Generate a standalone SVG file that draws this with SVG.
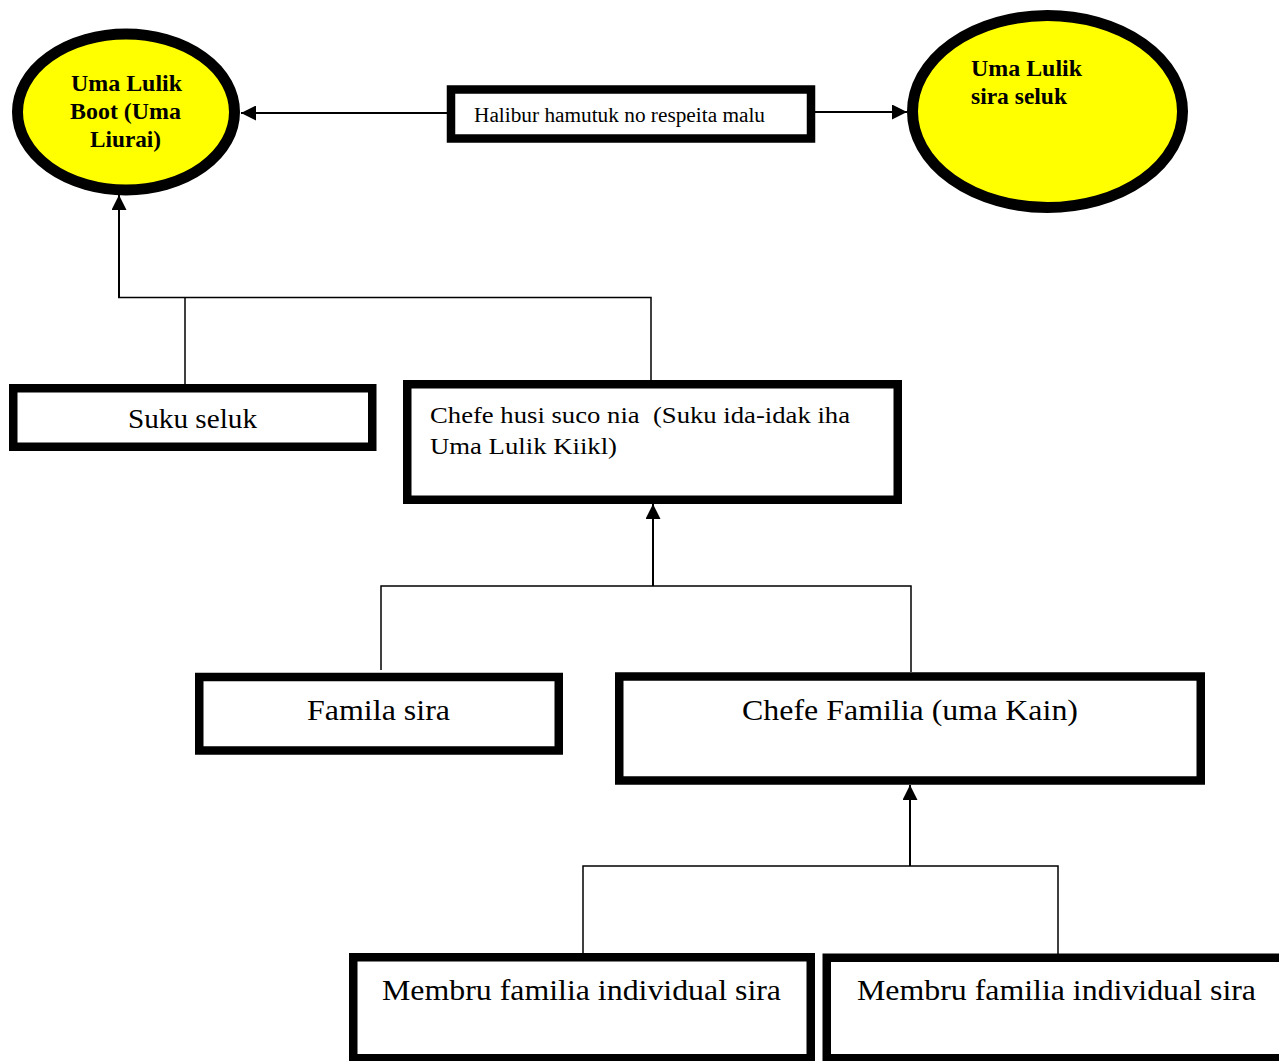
<svg xmlns="http://www.w3.org/2000/svg" width="1279" height="1061" viewBox="0 0 1279 1061">
<style>
.ell{fill:#FFFF00;stroke:#000;stroke-width:11}
.box{fill:#fff;stroke:#000;stroke-width:8.5}
.t{font-family:"Liberation Serif","Times New Roman",serif;fill:#000}
.b{font-weight:bold;font-size:23px}
.arr{fill:none;stroke:#000;stroke-width:2}
.ln{fill:none;stroke:#000;stroke-width:1.5}
</style>
<defs>
<marker id="ah" markerUnits="userSpaceOnUse" viewBox="0 0 15 15" refX="15" refY="7.5" markerWidth="15" markerHeight="15" orient="auto">
<path d="M0,0 L15,7.5 L0,15 z" fill="#000"/>
</marker>
</defs>
<rect width="1279" height="1061" fill="#fff"/>
<g id="connectors">
<line class="arr" x1="447" y1="113" x2="241" y2="113" marker-end="url(#ah)"/>
<line class="arr" x1="815" y1="112" x2="907" y2="112" marker-end="url(#ah)"/>
<line class="arr" x1="119" y1="298" x2="119" y2="195" marker-end="url(#ah)"/>
<polyline class="ln" points="118,297.5 651,297.5 651,381"/>
<line class="ln" x1="185" y1="297.5" x2="185" y2="384"/>
<line class="arr" x1="653" y1="586" x2="653" y2="504" marker-end="url(#ah)"/>
<polyline class="ln" points="381,670 381,586 911,586 911,672"/>
<line class="arr" x1="910" y1="866" x2="910" y2="785" marker-end="url(#ah)"/>
<polyline class="ln" points="583,954 583,866 1058,866 1058,954"/>
</g>
<g id="uma-lulik-boot">
<ellipse class="ell" cx="126" cy="112" rx="108.5" ry="78"/>
<text class="t b" x="71" y="91" textLength="111" lengthAdjust="spacingAndGlyphs">Uma Lulik</text>
<text class="t b" x="70" y="119" textLength="111" lengthAdjust="spacingAndGlyphs">Boot (Uma</text>
<text class="t b" x="90" y="147" textLength="71" lengthAdjust="spacingAndGlyphs">Liurai)</text>
</g>
<g id="halibur">
<rect class="box" x="451" y="89.5" width="360" height="49"/>
<text class="t" x="474" y="122" font-size="20" textLength="291" lengthAdjust="spacingAndGlyphs">Halibur hamutuk no respeita malu</text>
</g>
<g id="uma-lulik-sira-seluk">
<ellipse class="ell" cx="1047.5" cy="111.5" rx="135" ry="96"/>
<text class="t b" x="971" y="76" textLength="111" lengthAdjust="spacingAndGlyphs">Uma Lulik</text>
<text class="t b" x="971" y="104" textLength="96" lengthAdjust="spacingAndGlyphs">sira seluk</text>
</g>
<g id="suku-seluk">
<rect class="box" x="13.25" y="388.25" width="359" height="58.5"/>
<text class="t" x="128" y="428" font-size="27" textLength="129" lengthAdjust="spacingAndGlyphs">Suku seluk</text>
</g>
<g id="chefe-husi-suco">
<rect class="box" x="407.25" y="384.25" width="490.5" height="115.5"/>
<text class="t" x="430" y="422.5" font-size="24" textLength="420" lengthAdjust="spacingAndGlyphs" xml:space="preserve">Chefe husi suco nia  (Suku ida-idak iha</text>
<text class="t" x="430" y="454" font-size="24" textLength="187" lengthAdjust="spacingAndGlyphs">Uma Lulik Kiikl)</text>
</g>
<g id="famila-sira">
<rect class="box" x="199.25" y="677" width="359.5" height="73.5"/>
<text class="t" x="307" y="719.5" font-size="29" textLength="143" lengthAdjust="spacingAndGlyphs">Famila sira</text>
</g>
<g id="chefe-familia">
<rect class="box" x="619.25" y="676.5" width="581.5" height="104"/>
<text class="t" x="742" y="719.5" font-size="29" textLength="336" lengthAdjust="spacingAndGlyphs">Chefe Familia (uma Kain)</text>
</g>
<g id="membru-1">
<rect class="box" x="353.25" y="957.25" width="457.5" height="101"/>
<text class="t" x="382" y="1000" font-size="29" textLength="399" lengthAdjust="spacingAndGlyphs">Membru familia individual sira</text>
</g>
<g id="membru-2">
<rect class="box" x="826.75" y="957.75" width="470" height="100.5"/>
<text class="t" x="857" y="1000" font-size="29" textLength="399" lengthAdjust="spacingAndGlyphs">Membru familia individual sira</text>
</g>
</svg>
